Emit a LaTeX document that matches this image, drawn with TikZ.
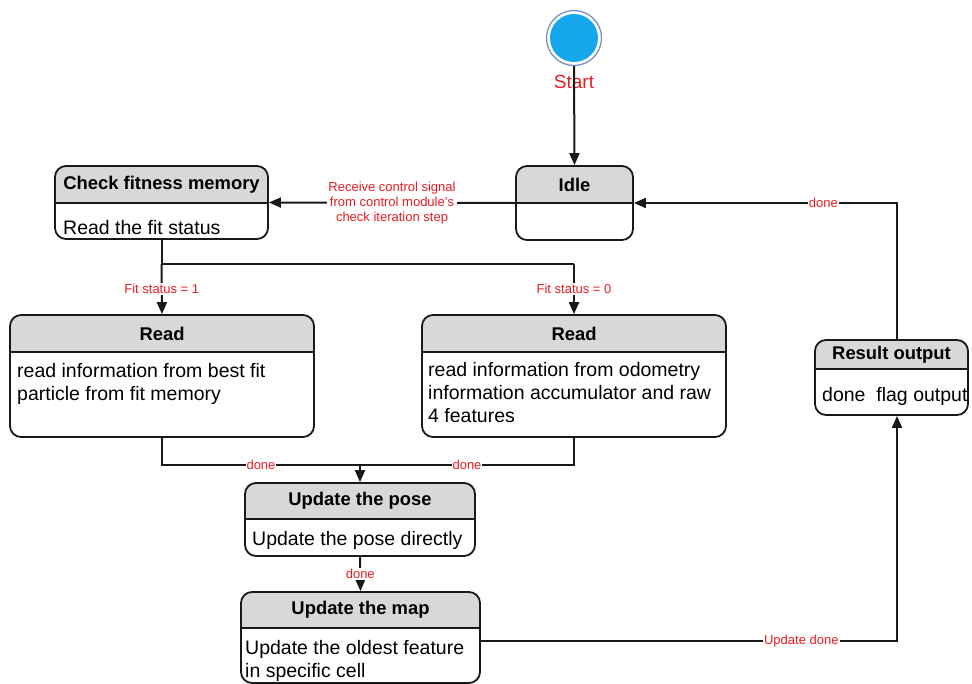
\documentclass[tikz,border=0pt]{standalone}
\usepackage{fontspec}
\setmainfont{Liberation Sans}
\usetikzlibrary{arrows.meta,fit,calc}

\definecolor{headfill}{RGB}{216,216,216}
\definecolor{labelred}{RGB}{235,28,36}
\definecolor{startblue}{RGB}{22,166,236}
\definecolor{ringblue}{RGB}{110,140,195}
\definecolor{ink}{RGB}{25,25,25}

\tikzset{
  statenode/.style={draw=ink, line width=1.8pt, rounded corners=11pt, inner sep=0pt},
  divider/.style={draw=ink, line width=1.5pt},
  titletext/.style={font=\fontsize{18.4}{21}\selectfont\bfseries, inner sep=0pt},
  % multi-line body text: the base anchor sits on the last line
  bodytext/.style={font=\fontsize{19.5}{22.8}\selectfont, align=left, anchor=base west, inner sep=0pt},
  lbl/.style={font=\fontsize{13}{15}\selectfont, text=labelred, fill=white, inner sep=1pt, align=center},
  link/.style={draw=ink, line width=2pt},
  flow/.style={link, -{Triangle[length=12pt,width=10pt]}},
}

% state box: name, x1, y1, x2, y2, header bottom, title
\newcommand\statebox[7]{%
  \begin{scope}
    \clip[rounded corners=11pt] (#2,#3) rectangle (#4,#5);
    \fill[headfill] (#2,#3) rectangle (#4,#6);
  \end{scope}
  \draw[divider] (#2,#6) -- (#4,#6);
  \node[statenode, fit={(#2,#3) (#4,#5)}] (#1) {};
  \node[titletext] (#1-title) at ({(#2+#4)/2},{(#3+#6)/2}) {#7};
}

\begin{document}
\begin{tikzpicture}[x=1pt,y=-1pt]
\useasboundingbox (0,0) rectangle (972,683);

% initial state
\node[circle, minimum size=55pt, inner sep=0pt, draw=ringblue, line width=1.2pt] (start) at (574,38) {};
\fill[startblue] (start.center) circle (24pt);
\node[font=\fontsize{19}{22}\selectfont, text=labelred, inner sep=0pt] (startlbl) at (574,82) {Start};

% states
\statebox{idle}{516}{166}{633}{240}{203}{Idle}
\statebox{cfm}{55}{166}{268}{239}{203}{Check fitness memory}
\node[bodytext] (cfm-body) at (63,234) {Read the fit status};

\statebox{readL}{10}{315}{314}{437}{352}{Read}
\node[bodytext] (readL-body) at (17,400) {read information from best fit\\particle from fit memory};

\statebox{readR}{422}{315}{726}{437}{352}{Read}
\node[bodytext] (readR-body) at (428,422) {read information from odometry\\information accumulator and raw\\4 features};

\statebox{pose}{245}{483}{475}{556}{519}{Update the pose}
\node[bodytext] (pose-body) at (252,545) {Update the pose directly};

\statebox{map}{241}{592}{480}{683}{628}{Update the map}
\node[bodytext] (map-body) at (245,677) {Update the oldest feature\\in specific cell};

\statebox{res}{815}{340}{968}{415}{369}{Result output}
\node[bodytext] (res-body) at (822,401) {done\ \ flag output};

% routing points
\coordinate (split) at (161.5,264);
\coordinate (splitR) at (574,264);
\coordinate (merge) at (360,465);
\coordinate (outcorner) at (897,641);
\coordinate (backcorner) at (897,203);

% transitions
\draw[flow] (start.south) -- (idle.north);
\draw[flow] (idle.west) -- node[lbl] {Receive control signal\\from control module's\\check iteration step} (cfm.east);
\draw[link] (cfm.south) -- (split) -- (splitR);
\draw[flow] (split) -- node[lbl] {Fit status = 1} (readL.north);
\draw[flow] (splitR) -- node[lbl] {Fit status = 0} (readR.north);
\draw[link] (readL.south) |- node[lbl, pos=0.75] {done} (merge);
\draw[link] (readR.south) |- node[lbl, pos=0.75] {done} (merge);
\draw[flow] (merge) -- (pose.north);
\draw[flow] (pose.south) -- node[lbl] {done} (map.north);
\draw[flow] (map.east |- outcorner) -- node[lbl, pos=0.77] {Update done} (outcorner) -- (outcorner |- res.south);
\draw[flow] (backcorner |- res.north) -- (backcorner) -- node[lbl, pos=0.28] {done} (idle.east);
\end{tikzpicture}
\end{document}
